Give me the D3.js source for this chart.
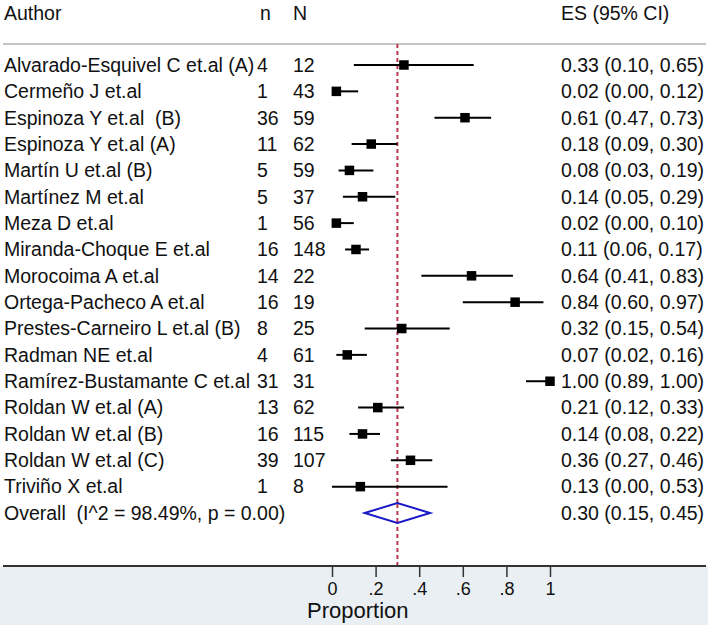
<!DOCTYPE html>
<html>
<head>
<meta charset="utf-8">
<script src="https://cdn.jsdelivr.net/npm/d3@7"></script>
<style>
  body { margin: 0; background: #fff; }
  text { font-family: Arial, "Liberation Sans", sans-serif; fill: #111; }
</style>
</head>
<body>
<svg width="708" height="628"></svg>
<script>
// study data
var authors = ["Alvarado-Esquivel C et.al (A)", "Cermeño J et.al", "Espinoza Y et.al  (B)", "Espinoza Y et.al (A)",
  "Martín U et.al (B)", "Martínez M et.al", "Meza D et.al", "Miranda-Choque E et.al", "Morocoima A et.al",
  "Ortega-Pacheco A et.al", "Prestes-Carneiro L et.al (B)", "Radman NE et.al", "Ramírez-Bustamante C et.al",
  "Roldan W et.al (A)", "Roldan W et.al (B)", "Roldan W et.al (C)", "Triviño X et.al"];
var nCases = [4, 1, 36, 11, 5, 5, 1, 16, 14, 16, 8, 4, 31, 13, 16, 39, 1];
var nTotal = [12, 43, 59, 62, 59, 37, 56, 148, 22, 19, 25, 61, 31, 62, 115, 107, 8];
var es = [0.33, 0.02, 0.61, 0.18, 0.08, 0.14, 0.02, 0.11, 0.64, 0.84, 0.32, 0.07, 1.00, 0.21, 0.14, 0.36, 0.13];
var lo = [0.10, 0.00, 0.47, 0.09, 0.03, 0.05, 0.00, 0.06, 0.41, 0.60, 0.15, 0.02, 0.89, 0.12, 0.08, 0.27, 0.00];
var hi = [0.65, 0.12, 0.73, 0.30, 0.19, 0.29, 0.10, 0.17, 0.83, 0.97, 0.54, 0.16, 1.00, 0.33, 0.22, 0.46, 0.53];
var overall = {label: "Overall  (I^2 = 98.49%, p = 0.00)", es: 0.30, lo: 0.15, hi: 0.45};
var ticks = [0, 0.2, 0.4, 0.6, 0.8, 1];
var tickLabels = ["0", ".2", ".4", ".6", ".8", "1"];

var svg = d3.select("svg"),
  width = +svg.attr("width"),
  height = +svg.attr("height");

var x = d3.scaleLinear().domain([0, 1]).range([332, 550]);
var rows = authors.concat([overall.label]);
var y = d3.scalePoint().domain(d3.range(rows.length)).range([65, 513]);
var axisY = 566;
var fmt = d3.format(".2f");
var fs = "19.5px";

// bottom band
svg.append("rect")
  .attr("x", 0).attr("y", axisY)
  .attr("width", width).attr("height", height - axisY - 3)
  .attr("fill", "#e9eff2");

// header
var hy = 13;
svg.append("text").attr("x", 4).attr("y", hy).attr("dy", "0.35em").style("font-size", fs).text("Author");
svg.append("text").attr("x", 260).attr("y", hy).attr("dy", "0.35em").style("font-size", fs).text("n");
svg.append("text").attr("x", 293).attr("y", hy).attr("dy", "0.35em").style("font-size", fs).text("N");
svg.append("text").attr("x", 561).attr("y", hy).attr("dy", "0.35em").style("font-size", fs).text("ES (95% CI)");

svg.append("line")
  .attr("x1", 3).attr("x2", width - 2)
  .attr("y1", 44).attr("y2", 44)
  .attr("stroke", "#c4c4c4").attr("stroke-width", 2);

// overall line (dashed)
svg.append("line")
  .attr("x1", x(overall.es)).attr("x2", x(overall.es))
  .attr("y1", 44).attr("y2", axisY)
  .attr("stroke", "#b8394e").attr("stroke-width", 2)
  .attr("stroke-dasharray", "4,3");

// text columns
var rowG = svg.append("g").selectAll("g")
  .data(authors)
  .enter().append("g");

rowG.append("text")
  .attr("x", 4).attr("y", function (d, i) { return y(i); })
  .attr("dy", "0.35em").style("font-size", fs)
  .style("white-space", "pre")
  .text(function (d) { return d; });
rowG.append("text")
  .attr("x", 257).attr("y", function (d, i) { return y(i); })
  .attr("dy", "0.35em").style("font-size", fs)
  .text(function (d, i) { return nCases[i]; });
rowG.append("text")
  .attr("x", 293).attr("y", function (d, i) { return y(i); })
  .attr("dy", "0.35em").style("font-size", fs)
  .text(function (d, i) { return nTotal[i]; });
rowG.append("text")
  .attr("x", 561).attr("y", function (d, i) { return y(i); })
  .attr("dy", "0.35em").style("font-size", fs)
  .text(function (d, i) { return fmt(es[i]) + " (" + fmt(lo[i]) + ", " + fmt(hi[i]) + ")"; });

// CI lines and boxes
rowG.append("line")
  .attr("x1", function (d, i) { return x(lo[i]); })
  .attr("x2", function (d, i) { return x(hi[i]); })
  .attr("y1", function (d, i) { return y(i); })
  .attr("y2", function (d, i) { return y(i); })
  .attr("stroke", "#000").attr("stroke-width", 2);
var box = 9.5;
rowG.append("rect")
  .attr("x", function (d, i) { return x(es[i]) - box / 2; })
  .attr("y", function (d, i) { return y(i) - box / 2; })
  .attr("width", box).attr("height", box)
  .attr("fill", "#000");

// overall row
var oy = y(rows.length - 1);
svg.append("text")
  .attr("x", 4).attr("y", oy).attr("dy", "0.35em").style("font-size", fs)
  .style("white-space", "pre")
  .text(overall.label);
svg.append("text")
  .attr("x", 561).attr("y", oy).attr("dy", "0.35em").style("font-size", fs)
  .text(fmt(overall.es) + " (" + fmt(overall.lo) + ", " + fmt(overall.hi) + ")");
svg.append("path")
  .attr("d", "M" + x(overall.lo) + "," + oy +
    "L" + x(overall.es) + "," + (oy - 10) +
    "L" + x(overall.hi) + "," + oy +
    "L" + x(overall.es) + "," + (oy + 10) + "Z")
  .attr("fill", "#fff")
  .attr("stroke", "#1a1ac8").attr("stroke-width", 2);
// redraw dashed line segment over diamond fill
svg.append("line")
  .attr("x1", x(overall.es)).attr("x2", x(overall.es))
  .attr("y1", oy - 9).attr("y2", oy + 9)
  .attr("stroke", "#b8394e").attr("stroke-width", 2)
  .attr("stroke-dasharray", "4,3");

// x axis
svg.append("line")
  .attr("x1", 3).attr("x2", width - 2)
  .attr("y1", axisY).attr("y2", axisY)
  .attr("stroke", "#333").attr("stroke-width", 2);

var axis = d3.axisBottom(x)
  .tickValues(ticks)
  .tickSize(10)
  .tickPadding(5)
  .tickFormat(function (d, i) { return tickLabels[i]; });

var ag = svg.append("g")
  .attr("transform", "translate(0," + (axisY + 1) + ")")
  .call(axis);
ag.select(".domain").remove();
ag.selectAll(".tick line").attr("stroke", "#333").attr("stroke-width", 1.5);
ag.selectAll(".tick text")
  .style("font-size", "18px")
  .style("font-family", "Arial, 'Liberation Sans', sans-serif")
  .attr("fill", "#111");

svg.append("text")
  .attr("x", 307).attr("y", 618)
  .style("font-size", "22px")
  .text("Proportion");
</script>
</body>
</html>
